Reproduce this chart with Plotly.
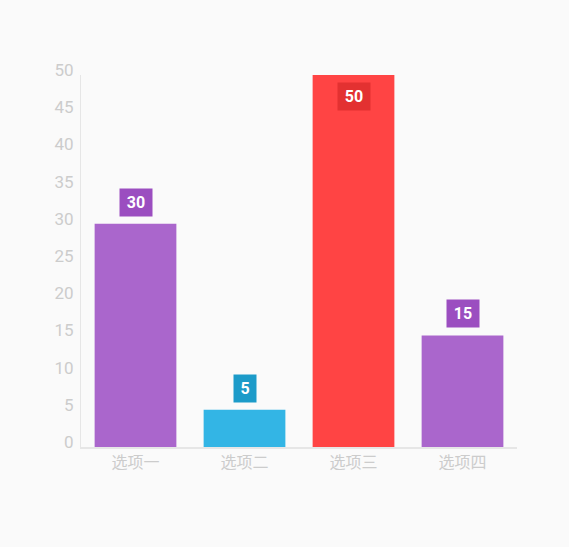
import plotly.graph_objects as go

categories = ["选项一", "选项二", "选项三", "选项四"]
values = [30, 5, 50, 15]
bar_colors = ["#AA66CC", "#33B5E5", "#FF4444", "#AA66CC"]
label_colors = ["#9B4EC0", "#1C9BC9", "#E33131", "#9B4EC0"]
y_ticks = list(range(0, 55, 5))

fig = go.Figure()
fig.add_trace(go.Bar(
    x=categories, y=values,
    marker=dict(color=bar_colors, line=dict(width=0)),
    hoverinfo="skip",
))

ymax = 50
for c, v, lc in zip(categories, values, label_colors):
    inside = v >= ymax
    txt = str(v)
    fig.add_annotation(
        x=c, y=v, xref="x", yref="y",
        text=f"<b>{txt}</b>", showarrow=False,
        font=dict(family="Roboto", size=16, color="white"),
        bgcolor=lc, borderpad=4,
        width=4 + 10 * len(txt),
        yanchor="top" if inside else "bottom",
        yshift=-7 if inside else 7,
    )

fig.update_layout(
    width=569, height=547,
    paper_bgcolor="#FAFAFA", plot_bgcolor="#FAFAFA",
    margin=dict(l=81, r=52, t=75, b=100),
    bargap=0.25,
    showlegend=False,
    font=dict(family="Roboto", color="#CCCCCC"),
)
fig.update_xaxes(
    showline=True, linecolor="#E6E6E6", linewidth=2,
    ticks="", showgrid=False,
    tickfont=dict(family="Noto Sans CJK SC", size=16, color="#CCCCCC"),
)
fig.update_yaxes(
    range=[0, 50], tickvals=y_ticks,
    showline=True, linecolor="#E6E6E6", linewidth=1,
    ticks="", showgrid=False, zeroline=False,
    tickfont=dict(family="Roboto", size=17, color="#CCCCCC"),
    ticklabelshift=-5, ticklabelstandoff=3,
)

fig.write_html(
    "out.html",
    config={"displayModeBar": False},
    post_script="document.body.style.margin='0';document.body.style.background='#FAFAFA';",
)
